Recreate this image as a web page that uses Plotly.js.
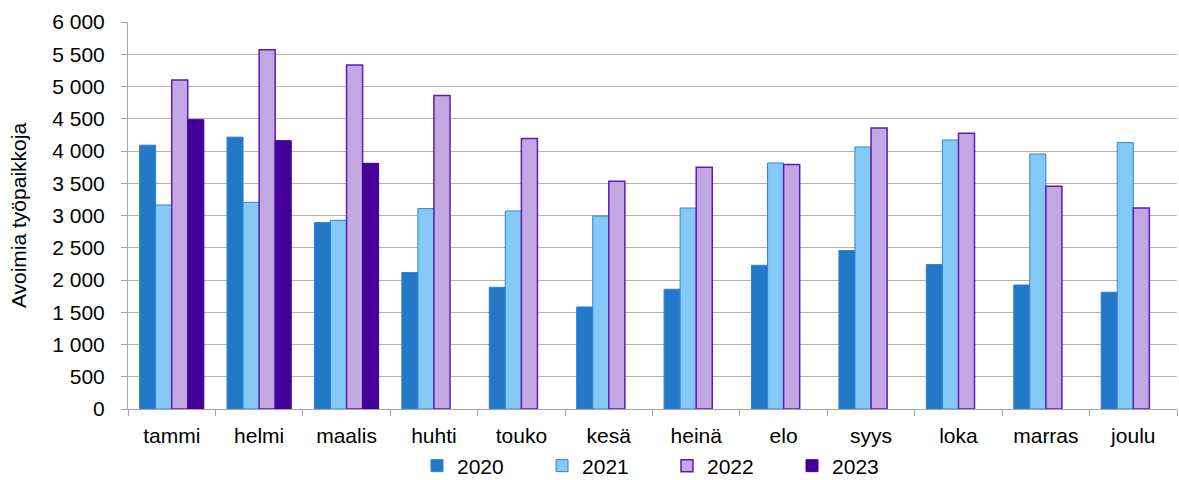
<!DOCTYPE html>
<html>
<head>
<meta charset="utf-8">
<script src="https://cdn.plot.ly/plotly-3.0.1.min.js"></script>
<style>html,body{margin:0;padding:0;background:#fff;}#chart{width:1179px;height:480px;}</style>
</head>
<body>
<div id="chart"></div>
<script>
const months = ["tammi","helmi","maalis","huhti","touko","kesä","heinä","elo","syys","loka","marras","joulu"];
const v2020 = [4090, 4215, 2890, 2115, 1887, 1582, 1857, 2228, 2456, 2240, 1923, 1810];
const v2021 = [3163, 3204, 2925, 3107, 3070, 2992, 3116, 3814, 4062, 4171, 3954, 4130];
const v2022 = [5101, 5571, 5333, 4859, 4192, 3530, 3747, 3789, 4357, 4274, 3453, 3116];
const v2023 = [4486, 4160, 3809];

const font = "Liberation Sans, Arial, sans-serif";
const traces = [
  {name:"2020", legend:"legend",  x:months, y:v2020, type:"bar", marker:{color:"#2478C8", line:{color:"#2E82D0", width:1}}},
  {name:"2021", legend:"legend2", x:months, y:v2021, type:"bar", marker:{color:"#85CAF6", line:{color:"#2E84D4", width:1}}},
  {name:"2022", legend:"legend3", x:months, y:v2022, type:"bar", marker:{color:"#C3A7E3", line:{color:"#5B1EB2", width:1.5}}},
  {name:"2023", legend:"legend4", x:months.slice(0, v2023.length), y:v2023, type:"bar", marker:{color:"#440099", line:{color:"#440099", width:1}}}
];
function leg(x) {
  return {orientation:"h", x:x, xanchor:"left", y:-0.1473, yanchor:"middle",
          font:{family:font, size:21, color:"#000"}, bgcolor:"rgba(0,0,0,0)"};
}
const layout = {
  width:1179, height:480,
  margin:{l:128, r:2, t:22, b:71, autoexpand:false},
  paper_bgcolor:"#fff", plot_bgcolor:"#fff",
  barmode:"group", bargap:0.265, bargroupgap:0,
  separators:", ",
  font:{family:font, size:21, color:"#000"},
  showlegend:true,
  legend:leg(0.2755), legend2:leg(0.3947), legend3:leg(0.5138), legend4:leg(0.6330),
  xaxis:{type:"category", showline:true, linecolor:"#a6a6a6", linewidth:1,
         ticks:"outside", tickson:"boundaries", ticklen:6, tickcolor:"#a6a6a6",
         showgrid:false, tickfont:{family:font, size:21}, ticklabelstandoff:8, automargin:false},
  yaxis:{range:[0,6000], dtick:500, tickformat:",d", showline:true, linecolor:"#a6a6a6", linewidth:1,
         ticks:"outside", ticklen:6, tickcolor:"#a6a6a6", ticklabelstandoff:12,
         showgrid:true, gridcolor:"#b3b3b3", gridwidth:1, zeroline:false,
         tickfont:{family:font, size:21}, automargin:false,
         title:{text:"Avoimia työpaikkoja", font:{family:font, size:21}, standoff:19}}
};
Plotly.newPlot("chart", traces, layout, {displayModeBar:false, staticPlot:true});
</script>
</body>
</html>
